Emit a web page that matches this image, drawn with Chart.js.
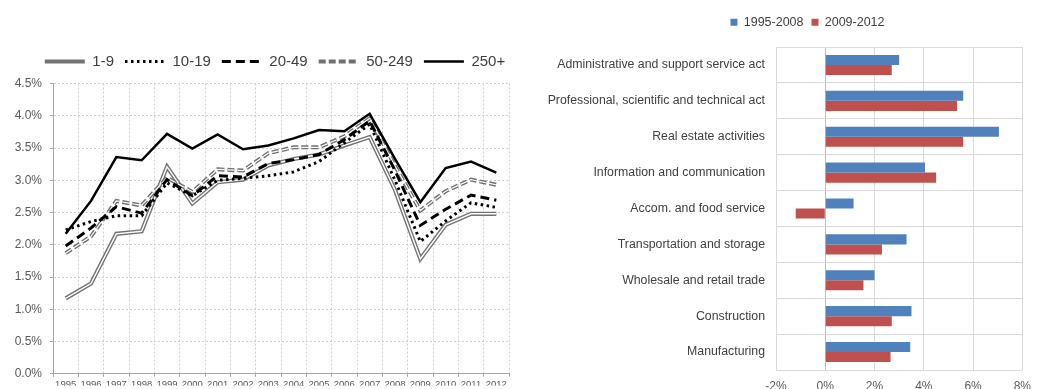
<!DOCTYPE html>
<html>
<head>
<meta charset="utf-8">
<script src="https://cdn.jsdelivr.net/npm/chart.js@4/dist/chart.umd.min.js"></script>
<style>
  html, body { margin: 0; padding: 0; background: #fff; }
  #wrap { position: relative; width: 1040px; height: 389px; overflow: hidden; }
  #lineChart { position: absolute; left: 0; top: 0; }
  #barChart { position: absolute; left: 520px; top: 0; }
</style>
</head>
<body>
<div id="wrap">
  <canvas id="lineChart" width="520" height="389"></canvas>
  <canvas id="barChart" width="520" height="389"></canvas>
</div>
<script>
// ---- left chart data (growth by firm size, %) ----
const years = ["1995", "1996", "1997", "1998", "1999", "2000", "2001", "2002", "2003",
  "2004", "2005", "2006", "2007", "2008", "2009", "2010", "2011", "2012"];
const size1to9 = [1.17, 1.40, 2.17, 2.21, 3.21, 2.64, 2.97, 3.01, 3.23, 3.33, 3.40, 3.54, 3.67, 2.85, 1.78, 2.31, 2.48, 2.48];
const size10to19 = [2.23, 2.36, 2.45, 2.45, 2.96, 2.76, 3.00, 3.03, 3.07, 3.13, 3.29, 3.58, 3.87, 3.00, 2.05, 2.37, 2.65, 2.58];
const size20to49 = [1.98, 2.26, 2.59, 2.49, 3.01, 2.76, 3.07, 3.05, 3.26, 3.32, 3.40, 3.63, 3.92, 3.15, 2.30, 2.55, 2.77, 2.69];
const size50to249 = [1.87, 2.13, 2.68, 2.61, 3.04, 2.82, 3.17, 3.15, 3.42, 3.51, 3.51, 3.68, 3.96, 3.22, 2.53, 2.83, 3.01, 2.93];
const size250plus = [2.17, 2.68, 3.36, 3.31, 3.72, 3.49, 3.71, 3.48, 3.54, 3.65, 3.78, 3.76, 4.03, 3.33, 2.66, 3.19, 3.29, 3.12];
const sizeLabels = ["1-9", "10-19", "20-49", "50-249", "250+"];

// ---- right chart data (by sector, %) ----
const sectors = ["Administrative and support service act", "Professional, scientific and technical act",
  "Real estate activities", "Information and communication", "Accom. and food service",
  "Transportation and storage", "Wholesale and retail trade", "Construction", "Manufacturing"];
const period1 = [3.0, 5.6, 7.05, 4.05, 1.15, 3.3, 2.0, 3.5, 3.45];
const period2 = [2.7, 5.35, 5.6, 4.5, -1.2, 2.3, 1.55, 2.7, 2.65];
const periodLabels = ["1995-2008", "2009-2012"];

Chart.defaults.font.family = '"Liberation Sans", Arial, sans-serif';
Chart.defaults.animation = false;

// extra room under the legend, and a sideways nudge of it
function legendTweak(gap, dx) {
  return {
    id: "legendTweak",
    beforeInit(chart) {
      const fit = chart.legend.fit;
      chart.legend.fit = function () {
        fit.bind(chart.legend)();
        this.height += gap;
      };
    },
    afterLayout(chart) {
      chart.legend.left += dx;
      chart.legend.right += dx;
    }
  };
}

const lineBase = { pointRadius: 0, tension: 0, fill: false };

// dataset 0 is drawn on top; legendRank puts them back in legend order
const lineSets = [
  { ...lineBase, label: sizeLabels[4], data: size250plus, borderColor: "#000", borderWidth: 2.5 },
  { ...lineBase, label: sizeLabels[1], data: size10to19, borderColor: "#000", borderWidth: 3, borderDash: [2.5, 3.5] },
  { ...lineBase, label: sizeLabels[2], data: size20to49, borderColor: "#000", borderWidth: 3, borderDash: [9, 5] },
  { ...lineBase, label: "", data: size50to249, borderColor: "#fff", borderWidth: 1.2, borderDash: [7, 3] },
  { ...lineBase, label: sizeLabels[3], data: size50to249, borderColor: "#707070", borderWidth: 4, borderDash: [7, 3] },
  { ...lineBase, label: "", data: size1to9, borderColor: "#fff", borderWidth: 1.4 },
  { ...lineBase, label: sizeLabels[0], data: size1to9, borderColor: "#737373", borderWidth: 4.2 }
];
const legendRank = { 6: 0, 1: 1, 2: 2, 4: 3, 0: 4 };

new Chart(document.getElementById("lineChart"), {
  type: "line",
  data: { labels: years, datasets: lineSets },
  options: {
    responsive: false,
    layout: { padding: { left: 0, right: 11, top: 43, bottom: 0 } },
    plugins: {
      tooltip: { enabled: false },
      legend: {
        position: "top",
        labels: {
          usePointStyle: true,
          pointStyle: "line",
          pointStyleWidth: 40,
          color: "#404040",
          font: { size: 15 },
          padding: 11,
          generateLabels: (chart) =>
            Chart.defaults.plugins.legend.labels.generateLabels(chart).map((item) => {
              const ds = chart.data.datasets[item.datasetIndex];
              item.lineDash = ds.borderDash || [];
              item.lineWidth = ds.borderWidth;
              item.strokeStyle = ds.borderColor;
              return item;
            }),
          filter: (item) => item.text !== "",
          sort: (a, b) => legendRank[a.datasetIndex] - legendRank[b.datasetIndex]
        }
      }
    },
    scales: {
      x: {
        offset: true,
        grid: { offset: true, color: "#cfcfcf", tickLength: 3, tickColor: "#a6a6a6" },
        border: { color: "#a6a6a6", dash: [2, 2] },
        ticks: { color: "#595959", font: { size: 9.5 }, maxRotation: 0, autoSkip: false, padding: 2 },
        afterFit: (s) => { s.height = 12; }
      },
      y: {
        min: 0, max: 4.5,
        grid: { color: "#cfcfcf", tickLength: 3, tickColor: "#a6a6a6" },
        border: { color: "#a6a6a6", dash: [2, 2] },
        ticks: { stepSize: 0.5, color: "#595959", font: { size: 12 }, padding: 8,
          callback: (v) => v.toFixed(1) + "%" },
        afterFit: (s) => { s.width = 53; }
      }
    }
  },
  plugins: [legendTweak(4.5, 20.5)]
});

new Chart(document.getElementById("barChart"), {
  type: "bar",
  data: {
    labels: sectors,
    datasets: [
      { label: periodLabels[0], data: period1, backgroundColor: "#4f81bd" },
      { label: periodLabels[1], data: period2, backgroundColor: "#c0504d" }
    ]
  },
  options: {
    responsive: false,
    indexAxis: "y",
    layout: { padding: { left: 0, right: 8, top: 8, bottom: 0 } },
    datasets: { bar: { categoryPercentage: 0.56, barPercentage: 1.0 } },
    plugins: {
      tooltip: { enabled: false },
      legend: {
        position: "top",
        labels: { boxWidth: 7, boxHeight: 7, color: "#404040", font: { size: 12.5 }, padding: 8 }
      }
    },
    scales: {
      x: {
        min: -2, max: 8,
        grid: { drawTicks: false, color: (c) => (c.tick && c.tick.value === 0 ? "#bfbfbf" : "#d9d9d9") },
        border: { display: false },
        ticks: { stepSize: 2, color: "#595959", font: { size: 12 }, padding: 9,
          callback: (v) => v + "%" },
        afterFit: (s) => { s.height = 19; }
      },
      y: {
        grid: { drawTicks: false, color: "#d9d9d9" },
        border: { display: false },
        ticks: { color: "#404040", font: { size: 12.3 }, padding: 11 },
        afterFit: (s) => { s.width = 256; }
      }
    }
  },
  plugins: [legendTweak(8.5, 31.5)]
});
</script>
</body>
</html>
